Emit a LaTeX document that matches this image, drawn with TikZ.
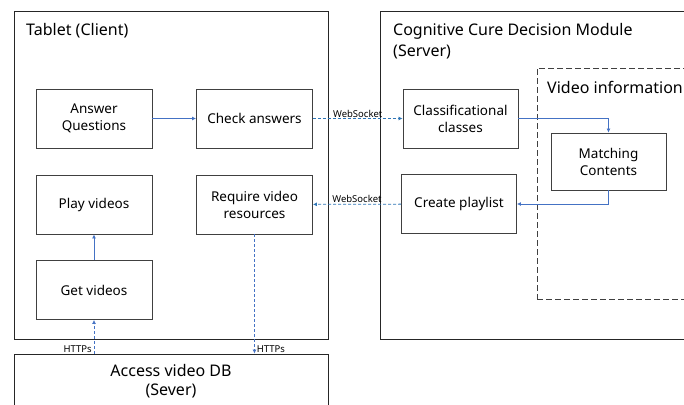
\documentclass[tikz,border=0pt]{standalone}
\usepackage{fontspec}
\setmainfont{Noto Sans}
\usetikzlibrary{arrows.meta}

\definecolor{flowblue}{RGB}{68,114,196}
\definecolor{sockblue}{RGB}{46,117,182}
\definecolor{boxgray}{RGB}{64,64,64}

\begin{document}
\begin{tikzpicture}[x=1pt, y=-1pt,
    task/.style={draw=boxgray, line width=0.9pt, minimum width=116pt, minimum height=59pt,
                 inner sep=0pt, align=center, font=\fontsize{13.5}{17}\selectfont},
    group/.style={draw=black!85, line width=0.9pt, inner sep=0pt},
    title/.style={anchor=west, align=left, inner sep=0pt, font=\fontsize{16}{21}\selectfont},
    flow/.style={draw=flowblue, line width=0.8pt, -{Latex[length=4pt,width=4pt]}},
    sock/.style={draw=sockblue, line width=0.8pt, dashed, dash pattern=on 3pt off 2pt, -{Latex[length=4pt,width=4pt]}},
    web/.style={draw=flowblue, line width=0.8pt, dash pattern=on 3pt off 2pt, -{Latex[length=4pt,width=4pt]}},
    tag/.style={inner sep=1pt, font=\fontsize{9.5}{11}\selectfont}]

    \clip (0,0) rectangle (684,404);
    \fill[white] (0,0) rectangle (684,404);

    % the three outer blocks
    \node[group, minimum width=314pt, minimum height=328pt] (tablet) at (171,175) {};
    \node[group, minimum width=320pt, minimum height=328pt] (server) at (540,175) {};
    \node[group, dashed, dash pattern=on 6pt off 3pt, draw=boxgray, minimum width=163pt, minimum height=231pt] (vinfo) at (618.5,183.5) {};
    \node[group, minimum width=314pt, minimum height=66pt] (db) at (171,387) {};

    \node[title] (tablettitle) at (26,31) {Tablet (Client)};
    \node[title] (servertitle) at (393,41.5) {Cognitive Cure Decision Module\\(Server)};
    \node[title] (vinfotitle) at (547,87) {Video information};
    \node[align=center, inner sep=0pt, font=\fontsize{16}{19}\selectfont] (dbtitle) at (171,381.5) {Access video DB\\(Sever)};

    % client tasks
    \node[task] (answer) at (94,118.5) {Answer\\Questions};
    \node[task] (check) at (254.5,118.5) {Check answers};
    \node[task] (play) at (94,204.5) {Play videos};
    \node[task] (require) at (254.5,204.5) {Require video\\resources};
    \node[task] (get) at (94,290) {Get videos};

    % server tasks
    \node[task, minimum width=115pt] (classes) at (460.5,118.5) {Classificational\\classes};
    \node[task, minimum width=115pt] (playlist) at (459,204) {Create playlist};
    \node[task, minimum width=115pt, minimum height=57pt] (matching) at (608.5,161.5) {Matching\\Contents};

    % connectors
    \draw[flow] (answer) -- (check);
    \draw[sock] (check) -- node[tag, above] (sock1) {WebSocket} (classes);
    \draw[flow] (classes.east) -| (matching.north);
    \draw[flow] (matching.south) |- (playlist.east);
    \draw[sock] (playlist) -- node[tag, above] (sock2) {WebSocket} (require);
    \draw[web] (require.south) -- (require.south |- db.north)
        node[tag, anchor=south west, pos=1, xshift=1pt] (https2) {HTTPs};
    \draw[web] (get.south |- db.north)
        node[tag, anchor=south east, xshift=-1pt] (https1) {HTTPs} -- (get.south);
    \draw[flow] (get) -- (play);

\end{tikzpicture}
\end{document}
